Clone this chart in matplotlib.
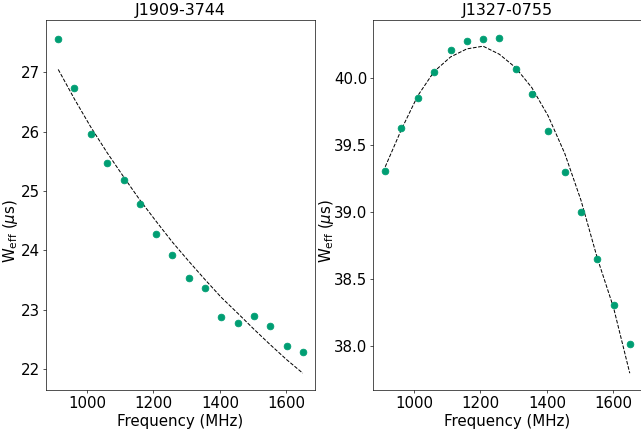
import matplotlib
matplotlib.use("Agg")
import matplotlib.pyplot as plt

# observing frequencies (MHz)
freqs = [913, 962, 1011, 1060, 1110, 1159, 1208, 1257, 1306, 1355, 1404, 1454, 1503, 1552, 1601, 1650]

# J1909-3744 measured effective width and fit
w_1909 = [27.57, 26.74, 25.96, 25.48, 25.19, 24.79, 24.27, 23.93, 23.54, 23.36, 22.87, 22.78, 22.89, 22.73, 22.39, 22.28]
err_1909 = [0.03] * 16
fit_1909 = [27.05, 26.55, 26.08, 25.65, 25.24, 24.85, 24.49, 24.14, 23.82, 23.51, 23.21, 22.94, 22.67, 22.41, 22.16, 21.93]

# J1327-0755 measured effective width and fit
w_1327 = [39.31, 39.63, 39.85, 40.05, 40.21, 40.28, 40.29, 40.30, 40.07, 39.88, 39.61, 39.30, 39.00, 38.65, 38.31, 38.02]
err_1327 = [0.01] * 16
fit_1327 = [39.34, 39.62, 39.87, 40.05, 40.16, 40.22, 40.24, 40.18, 40.08, 39.93, 39.72, 39.44, 39.09, 38.66, 38.29, 37.80]

names = ["J1909-3744", "J1327-0755"]
green = "#009E73"

plt.rcParams["font.size"] = 18

W, H = 641, 433
fig = plt.figure(figsize=(W / 60, H / 60), dpi=60)
ax1 = fig.add_axes([46 / W, 43 / H, 269 / W, 370 / H])
ax2 = fig.add_axes([373 / W, 43 / H, 269 / W, 370 / H])

for ax, w, err, fit, name, lx in [(ax1, w_1909, err_1909, fit_1909, names[0], -0.097),
                                  (ax2, w_1327, err_1327, fit_1327, names[1], -0.139)]:
    ax.errorbar(freqs, w, yerr=err, fmt="o", color=green, ms=8, elinewidth=1.5)
    ax.plot(freqs, fit, "k--", lw=1.2)
    ax.set_title(name, fontsize=19)
    ax.set_xlabel("Frequency (MHz)")
    ax.set_ylabel(r"W$_{\rm eff}$ ($\mu$s)")
    ax.yaxis.set_label_coords(lx, 0.43)

fig.savefig("out.png", dpi=60)
